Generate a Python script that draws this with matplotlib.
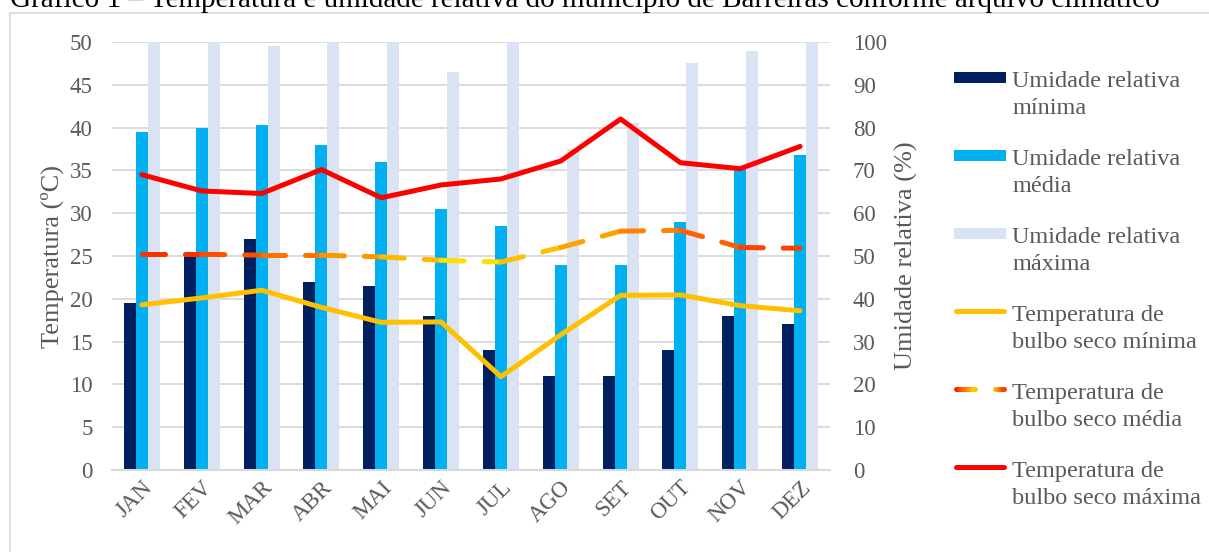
import numpy as np
import matplotlib
matplotlib.use("Agg")
import matplotlib.pyplot as plt
from matplotlib.collections import LineCollection
from matplotlib.colors import LinearSegmentedColormap
from matplotlib.legend_handler import HandlerBase
from matplotlib.lines import Line2D
from matplotlib.patches import Rectangle

plt.rcParams['font.family'] = ['Liberation Serif', 'DejaVu Serif']

# Dados
meses = ["JAN", "FEV", "MAR", "ABR", "MAI", "JUN", "JUL", "AGO", "SET", "OUT", "NOV", "DEZ"]
ur_min = [39, 50, 54, 44, 43, 36, 28, 22, 22, 28, 36, 34]
ur_med = [79, 80, 80.5, 76, 72, 61, 57, 48, 48, 58, 70.5, 73.5]
ur_max = [100, 100, 99, 100, 100, 93, 100, 75, 81, 95, 98, 100]
t_min = [19.3, 20.1, 21.0, 19.0, 17.25, 17.3, 10.9, 15.8, 20.4, 20.45, 19.2, 18.6]
t_med = [25.2, 25.2, 25.1, 25.1, 24.9, 24.5, 24.3, 26.0, 27.9, 28.0, 26.0, 25.9]
t_max = [34.5, 32.6, 32.3, 35.1, 31.8, 33.3, 34.0, 36.1, 41.0, 35.9, 35.2, 37.8]

legendas = ["Umidade relativa\nmínima", "Umidade relativa\nmédia", "Umidade relativa\nmáxima",
            "Temperatura de\nbulbo seco mínima", "Temperatura de\nbulbo seco média",
            "Temperatura de\nbulbo seco máxima"]

cinza = "#595959"
grade = "#d9d9d9"
c_urmin, c_urmed, c_urmax = "#002060", "#00b0f0", "#dae3f3"
c_tmin, c_tmax = "#ffc000", "#ff0000"
cmap_med = LinearSegmentedColormap.from_list(
    "grad", ["#ff2000", "#ff7a00", "#ffe000", "#ff8a00", "#ff3000"])


class Chave:
    # marcador simples p/ legenda
    def __init__(self, tipo, cor=None):
        self.tipo = tipo
        self.cor = cor


class HandlerTopo(HandlerBase):
    # desenha o símbolo alinhado com a primeira linha do texto (como no Excel)
    def create_artists(self, legend, orig_handle, xd, yd, width, height, fontsize, trans):
        y = height / 2 - yd + 0.7 * fontsize
        x0 = -xd
        if orig_handle.tipo == "patch":
            h = 8.0
            r = Rectangle((x0, y - h / 2), width, h, facecolor=orig_handle.cor,
                          edgecolor="none", transform=trans)
            return [r]
        if orig_handle.tipo == "line":
            ln = Line2D([x0 + 1.5, x0 + width - 1.5], [y, y], color=orig_handle.cor, lw=3.6,
                        solid_capstyle="round", transform=trans)
            return [ln]
        segs, cols = [], []
        n = 8
        for (a, b, c0, c1) in [(0.0, 0.45, 0.0, 0.5), (0.75, 1.0, 0.6, 1.0)]:
            xs = np.linspace(x0 + a * width + 1.5, x0 + b * width - 1.5, n + 1)
            for i in range(n):
                segs.append([(xs[i], y), (xs[i + 1], y)])
                cols.append(cmap_med(c0 + (c1 - c0) * i / n))
        lc = LineCollection(segs, colors=cols, linewidths=3.6, capstyle="round", transform=trans)
        return [lc]


fig = plt.figure(figsize=(12.09, 5.52), dpi=100)
W, H = 1209, 552

# moldura do gráfico
fig.add_artist(Line2D([10 / W, 10 / W], [0, 1 - 12.5 / H], color=grade, lw=1.2))
fig.add_artist(Line2D([10 / W, 1], [1 - 12.5 / H, 1 - 12.5 / H], color=grade, lw=1.2))

fig.text(10 / W, 1 - 7 / H,
         "Gráfico 1 – Temperatura e umidade relativa do município de Barreiras conforme arquivo climático",
         fontsize=21, color="black", va="baseline", ha="left")

ax_t = fig.add_axes([112 / W, 1 - 470 / H, 718 / W, 428 / H])
ax_u = ax_t.twinx()
# barras atrás das linhas
ax_t.set_zorder(2)
ax_u.set_zorder(1)
ax_t.patch.set_visible(False)

x = np.arange(len(meses))
bw = 0.2
ax_u.bar(x - bw, ur_min, bw, color=c_urmin)
ax_u.bar(x, ur_med, bw, color=c_urmed)
ax_u.bar(x + bw, ur_max, bw, color=c_urmax)
ax_u.set_ylim(0, 100)
ax_u.set_yticks(np.arange(0, 101, 10))
for v in np.arange(0, 101, 10):
    ax_u.axhline(v, color=grade, lw=1.3, zorder=0)

ax_t.plot(x, t_min, color=c_tmin, lw=3.6, solid_capstyle="round")
segs = [[(x[i], t_med[i]), (x[i + 1], t_med[i + 1])] for i in range(len(x) - 1)]
cols = [cmap_med((x[i] + 0.5) / (len(x) - 1)) for i in range(len(x) - 1)]
lc = LineCollection(segs, colors=cols, linewidths=3.6, capstyle="round",
                    linestyles=[(0, (4.6, 4.0))])
ax_t.add_collection(lc)
ax_t.plot(x, t_max, color=c_tmax, lw=3.6, solid_capstyle="round")

ax_t.set_ylim(0, 50)
ax_t.set_yticks(np.arange(0, 51, 5))
ax_t.set_xlim(-0.5, len(meses) - 0.5)
ax_t.set_xticks(x)
ax_t.set_xticklabels(meses, rotation=45, ha="right", rotation_mode="anchor", fontsize=20)

for a in (ax_t, ax_u):
    for s in a.spines.values():
        s.set_visible(False)
    a.tick_params(length=0, labelsize=16.5, colors=cinza)
ax_u.spines["bottom"].set_visible(True)
ax_u.spines["bottom"].set_color(grade)
ax_u.spines["bottom"].set_linewidth(1.5)
ax_t.tick_params(axis="y", pad=14)
ax_t.tick_params(axis="x", pad=5)
ax_u.tick_params(axis="y", pad=16.5)

ax_t.set_ylabel("Temperatura (ºC)", fontsize=19, color=cinza, labelpad=4)
ax_u.set_ylabel("Umidade relativa (%)", fontsize=19, color=cinza, labelpad=6)

handles = [Chave("patch", c_urmin), Chave("patch", c_urmed), Chave("patch", c_urmax),
           Chave("line", c_tmin), Chave("grad"), Chave("line", c_tmax)]
leg = fig.legend(handles, legendas, loc="upper left", bbox_to_anchor=(954 / W, 1 - 71 / H),
                 frameon=False, fontsize=17.5, labelcolor=cinza, handlelength=2.15,
                 handleheight=0.7, handletextpad=0.25, labelspacing=1.25, borderpad=0,
                 borderaxespad=0, handler_map={Chave: HandlerTopo()})
for t in leg.get_texts():
    t.set_linespacing(1.35)

fig.savefig("out.png", dpi=100)
